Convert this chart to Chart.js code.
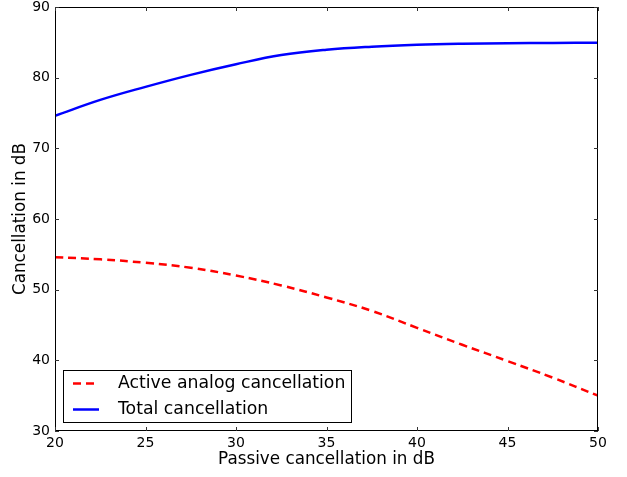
<!DOCTYPE html>
<html>
<head>
<meta charset="utf-8">
<script src="https://cdn.jsdelivr.net/npm/chart.js@4/dist/chart.umd.min.js"></script>
<style>
  html, body { margin: 0; padding: 0; background: #fff; }
  #wrap { width: 627px; height: 477px; }
</style>
</head>
<body>
<div id="wrap"><canvas id="chart" width="627" height="477"></canvas></div>
<script>
// values
const passive = [20, 22.5, 25, 27.5, 30, 32.5, 35, 37.5, 40, 42.5, 45, 47.5, 50];
const activeAnalog = [54.6, 54.3, 53.8, 53.1, 52.0, 50.6, 48.9, 47.0, 44.6, 42.2, 39.9, 37.55, 35.0];
const total = [74.6, 76.85, 78.7, 80.4, 81.9, 83.2, 83.95, 84.38, 84.65, 84.8, 84.88, 84.92, 84.95];
const labels = ['Active analog cancellation', 'Total cancellation'];

const FONT = 'DejaVu Sans';

const toPts = (xs, ys) => xs.map((x, i) => ({ x: x, y: ys[i] }));

// frame on all four sides + inward ticks, matplotlib style
const framePlugin = {
  id: 'frame',
  afterDatasetsDraw(chart) {
    const { ctx, chartArea: a, scales } = chart;
    ctx.save();
    ctx.strokeStyle = '#000';
    ctx.lineWidth = 1;
    ctx.strokeRect(a.left + 0.5, a.top + 0.5, a.right - a.left - 1, a.bottom - a.top - 1);
    ctx.strokeStyle = '#333';
    const len = 4;
    scales.x.ticks.forEach(t => {
      const px = Math.round(scales.x.getPixelForValue(t.value)) + 0.5;
      ctx.beginPath();
      ctx.moveTo(px, a.bottom); ctx.lineTo(px, a.bottom - len);
      ctx.moveTo(px, a.top); ctx.lineTo(px, a.top + len);
      ctx.stroke();
    });
    scales.y.ticks.forEach(t => {
      const py = Math.round(scales.y.getPixelForValue(t.value)) + 0.5;
      ctx.beginPath();
      ctx.moveTo(a.left, py); ctx.lineTo(a.left + len, py);
      ctx.moveTo(a.right, py); ctx.lineTo(a.right - len, py);
      ctx.stroke();
    });
    ctx.restore();
  },
  afterDraw(chart) {
    // legend box inside the plot, lower left
    const { ctx, chartArea: a } = chart;
    const x0 = a.left + 8, y0 = a.bottom - 61, w = 288, h = 52;
    ctx.save();
    ctx.fillStyle = '#fff';
    ctx.fillRect(x0, y0, w, h);
    ctx.strokeStyle = '#000';
    ctx.lineWidth = 1;
    ctx.strokeRect(x0 + 0.5, y0 + 0.5, w, h);
    ctx.font = '17.3px "' + FONT + '"';
    ctx.textBaseline = 'middle';
    chart.data.datasets.forEach((ds, i) => {
      const cy = y0 + 13.5 + i * 26;
      ctx.strokeStyle = ds.borderColor;
      ctx.lineWidth = ds.borderWidth;
      ctx.setLineDash(ds.borderDash || []);
      ctx.beginPath();
      ctx.moveTo(x0 + 10, cy); ctx.lineTo(x0 + 36, cy);
      ctx.stroke();
      ctx.setLineDash([]);
      ctx.fillStyle = '#000';
      ctx.fillText(ds.label, x0 + 55, cy);
    });
    ctx.restore();
  }
};

new Chart(document.getElementById('chart'), {
  type: 'line',
  data: {
    datasets: [
      {
        label: labels[0],
        data: toPts(passive, activeAnalog),
        borderColor: '#ff0000',
        borderWidth: 2.5,
        borderDash: [8, 5],
        pointRadius: 0,
        fill: false,
        tension: 0.4,
      },
      {
        label: labels[1],
        data: toPts(passive, total),
        borderColor: '#0000ff',
        borderWidth: 2.5,
        pointRadius: 0,
        fill: false,
        tension: 0.4,
      },
    ],
  },
  options: {
    responsive: false,
    animation: false,
    layout: { padding: { top: 7, right: 29, left: 0, bottom: 0 } },
    plugins: {
      legend: { display: false },
      tooltip: { enabled: false },
    },
    scales: {
      x: {
        type: 'linear',
        min: 20,
        max: 50,
        grid: { display: false, drawTicks: false },
        border: { display: false },
        ticks: { stepSize: 5, color: '#000', padding: 4, font: { family: FONT, size: 14 } },
        title: {
          display: true,
          text: 'Passive cancellation in dB',
          color: '#000',
          font: { family: FONT, size: 16.8 },
          padding: { top: 0, bottom: 7 },
        },
        afterFit: s => { s.height = 46; s.paddingLeft = 0; s.paddingRight = 0; },
      },
      y: {
        min: 30,
        max: 90,
        grid: { display: false, drawTicks: false },
        border: { display: false },
        ticks: { stepSize: 10, color: '#000', padding: 5, font: { family: FONT, size: 14 } },
        title: {
          display: true,
          text: 'Cancellation in dB',
          color: '#000',
          font: { family: FONT, size: 16.8 },
          padding: { top: 11, bottom: 0 },
        },
        afterFit: s => { s.width = 55; s.paddingTop = 0; s.paddingBottom = 0; },
      },
    },
  },
  plugins: [framePlugin],
});
</script>
</body>
</html>
